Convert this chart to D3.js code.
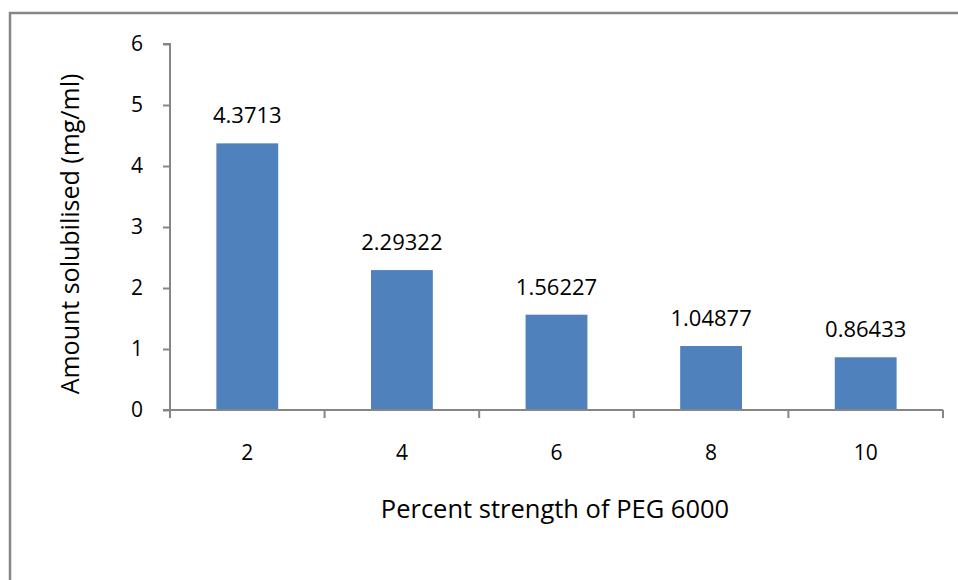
<!DOCTYPE html>
<html>
<head>
<meta charset="utf-8">
<script src="https://cdn.jsdelivr.net/npm/d3@7"></script>
<style>
  html, body { margin: 0; padding: 0; background: #fff; }
  svg { display: block; font-family: "Open Sans", "Liberation Sans", sans-serif; }
</style>
</head>
<body>
<svg id="chart" width="958" height="580"></svg>
<script>
// PEG 6000 strength (%) vs. amount of drug solubilised
const categories = ["2", "4", "6", "8", "10"];
const values = [4.3713, 2.29322, 1.56227, 1.04877, 0.86433];
const valueLabels = ["4.3713", "2.29322", "1.56227", "1.04877", "0.86433"];
const yTicks = [0, 1, 2, 3, 4, 5, 6];

const svg = d3.select("#chart");
const axisColor = "#868686";
const barColor = "#4F81BD";
const fontFamily = "'Open Sans', 'Liberation Sans', sans-serif";

// outer frame
svg.append("rect")
  .attr("x", 10).attr("y", 13)
  .attr("width", 970).attr("height", 620)
  .attr("fill", "none")
  .attr("stroke", axisColor)
  .attr("stroke-width", 2.5);

const plot = { left: 170, right: 943, top: 44, bottom: 410 };

const x = d3.scaleBand()
  .domain(categories)
  .range([plot.left, plot.right])
  .paddingInner(0).paddingOuter(0);

const y = d3.scaleLinear()
  .domain([0, 6])
  .range([plot.bottom, plot.top]);

const barW = x.step() / 2.5;

// bars
svg.append("g").selectAll("rect")
  .data(values)
  .join("rect")
  .attr("x", (d, i) => x(categories[i]) + x.bandwidth() / 2 - barW / 2)
  .attr("y", d => y(d))
  .attr("width", barW)
  .attr("height", d => y(0) - y(d))
  .attr("fill", barColor);

// value labels
svg.append("g").selectAll("text")
  .data(values)
  .join("text")
  .attr("x", (d, i) => x(categories[i]) + x.bandwidth() / 2)
  .attr("y", d => y(d) - 20)
  .attr("text-anchor", "middle")
  .attr("font-family", fontFamily)
  .attr("font-size", 22)
  .attr("fill", "#000")
  .text((d, i) => valueLabels[i]);

// y axis
const yAxis = svg.append("g")
  .attr("transform", `translate(${plot.left},0)`)
  .call(d3.axisLeft(y).tickValues(yTicks).tickSize(7).tickPadding(20).tickFormat(d3.format("d")));
yAxis.select(".domain").attr("stroke", axisColor).attr("stroke-width", 2)
  .attr("d", `M-7,${plot.top}H0V${plot.bottom}`);
yAxis.selectAll(".tick line").attr("stroke", axisColor).attr("stroke-width", 2);
yAxis.selectAll(".tick text").attr("font-size", 21).attr("fill", "#000")
  .attr("font-family", fontFamily);

// x axis: ticks at category boundaries
const boundaries = categories.map(c => x(c)).concat([plot.right]);
const xAxisG = svg.append("g");
xAxisG.append("line")
  .attr("x1", plot.left - 7).attr("x2", plot.right)
  .attr("y1", plot.bottom).attr("y2", plot.bottom)
  .attr("stroke", axisColor).attr("stroke-width", 2);
xAxisG.selectAll("line.tick")
  .data(boundaries)
  .join("line")
  .attr("class", "tick")
  .attr("x1", d => d).attr("x2", d => d)
  .attr("y1", plot.bottom).attr("y2", plot.bottom + 8)
  .attr("stroke", axisColor).attr("stroke-width", 2);
xAxisG.selectAll("text")
  .data(categories)
  .join("text")
  .attr("x", d => x(d) + x.bandwidth() / 2)
  .attr("y", 460)
  .attr("text-anchor", "middle")
  .attr("font-family", fontFamily)
  .attr("font-size", 21)
  .attr("fill", "#000")
  .text(d => d);

// axis titles
svg.append("text")
  .attr("x", 555).attr("y", 518)
  .attr("text-anchor", "middle")
  .attr("font-family", fontFamily)
  .attr("font-size", 25.5)
  .attr("fill", "#000")
  .text("Percent strength of PEG 6000");

svg.append("text")
  .attr("transform", "translate(79,234) rotate(-90)")
  .attr("text-anchor", "middle")
  .attr("font-family", fontFamily)
  .attr("font-size", 25)
  .attr("fill", "#000")
  .text("Amount solubilised (mg/ml)");
</script>
</body>
</html>
